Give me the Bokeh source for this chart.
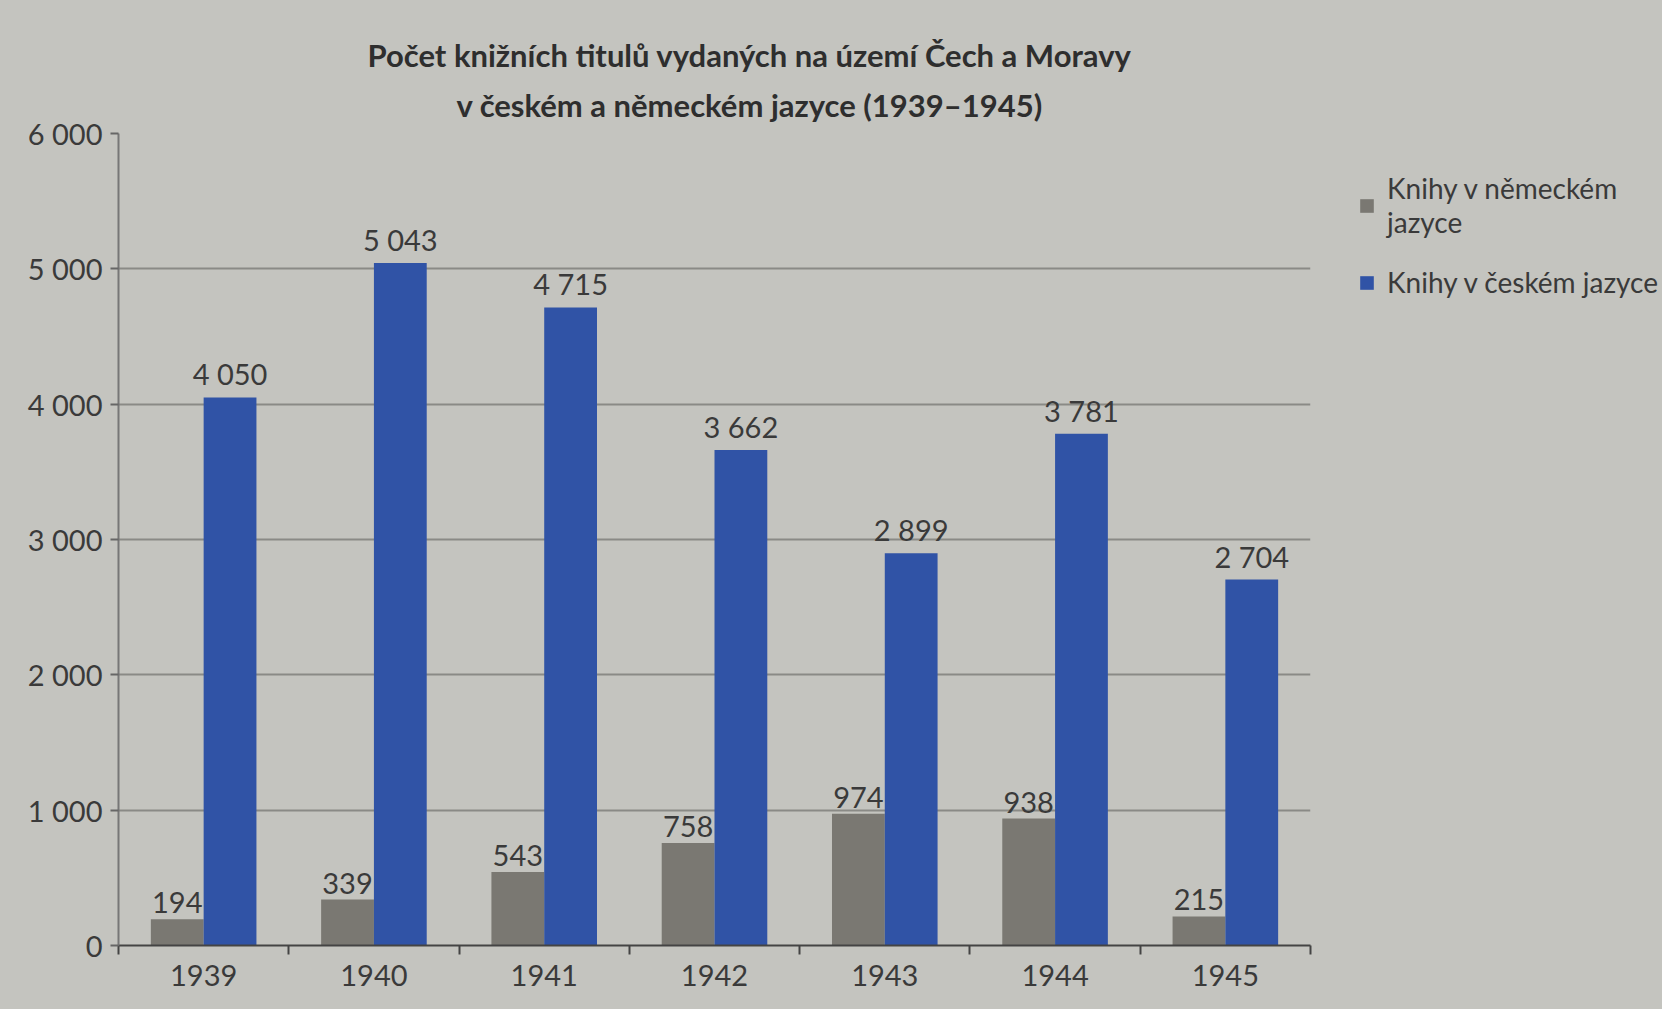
from bokeh.plotting import figure
from bokeh.layouts import row
from bokeh.models import Range1d, FixedTicker, Legend, LegendItem, ColumnDataSource, Title
from bokeh.core.properties import value
from bokeh.embed import file_html
from bokeh.resources import INLINE

# ---- data ----
years = ["1939", "1940", "1941", "1942", "1943", "1944", "1945"]
german = [194, 339, 543, 758, 974, 938, 215]
czech = [4050, 5043, 4715, 3662, 2899, 3781, 2704]
y_ticks = [0, 1000, 2000, 3000, 4000, 5000, 6000]
title_lines = ["Počet knižních titulů vydaných na území Čech a Moravy",
               "v českém a německém jazyce (1939–1945)"]
legend_labels = ["Knihy v německém\njazyce", "Knihy v českém jazyce"]


def fmt(v):
    return f"{v:,}".replace(",", " ")


BG = "#c4c4bf"
TXT = "#3a3a3a"
FONT = value("Lato")
BLUE = "#3053a6"
GREY = "#7a7872"

idx = list(range(len(years)))
src = ColumnDataSource(dict(
    x_de=[i - 0.155 for i in idx],
    x_cz=[i + 0.155 for i in idx],
    de=german, cz=czech,
    de_lbl=[fmt(v) for v in german],
    cz_lbl=[fmt(v) for v in czech],
))

p = figure(width=1320, height=1009,
           x_range=Range1d(-0.5, len(years) - 0.5),
           y_range=Range1d(0, 6000),
           output_backend="svg", toolbar_location=None,
           min_border_left=118, min_border_right=10,
           min_border_top=133, min_border_bottom=64,
           background_fill_alpha=0, border_fill_color=BG,
           outline_line_color=None)

# two title lines (second line closest to the plot is added first)
p.add_layout(Title(text=title_lines[1], align="left", offset=338,
                   text_font="Lato", text_font_size="31px", text_font_style="bold",
                   text_color="#2e2e2e", standoff=20, text_line_height=1.0), "above")
p.add_layout(Title(text=title_lines[0], align="left", offset=249,
                   text_font="Lato", text_font_size="31px", text_font_style="bold",
                   text_color="#2e2e2e", standoff=0, text_line_height=1.0), "above")

r_de = p.vbar(x="x_de", top="de", width=0.31, source=src,
              fill_color=GREY, line_color=None)
r_cz = p.vbar(x="x_cz", top="cz", width=0.31, source=src,
              fill_color=BLUE, line_color=None)

for col_x, col_y, col_l in [("x_de", "de", "de_lbl"), ("x_cz", "cz", "cz_lbl")]:
    p.text(x=col_x, y=col_y, text=col_l, source=src, text_align="center",
           text_baseline="bottom", y_offset=-6, text_font=FONT,
           text_font_size="29px", text_color=TXT)

# grid
p.xgrid.grid_line_color = None
p.ygrid.grid_line_color = "#8a8a86"
p.ygrid.grid_line_width = 2
p.ygrid.ticker = FixedTicker(ticks=y_ticks)

# x axis
p.xaxis.ticker = FixedTicker(ticks=idx, minor_ticks=[i - 0.5 for i in range(len(years) + 1)])
p.xaxis.major_label_overrides = {i: y for i, y in enumerate(years)}
p.xaxis.major_tick_line_color = None
p.xaxis.major_tick_out = 0
p.xaxis.major_tick_in = 0
p.xaxis.minor_tick_line_color = "#444444"
p.xaxis.minor_tick_line_width = 2
p.xaxis.minor_tick_out = 9
p.xaxis.minor_tick_in = 0
p.xaxis.axis_line_color = "#444444"
p.xaxis.axis_line_width = 2
p.xaxis.major_label_standoff = 10

# y axis
p.yaxis.ticker = FixedTicker(ticks=y_ticks)
p.yaxis.major_label_overrides = {t: fmt(t) for t in y_ticks}
p.yaxis.minor_tick_line_color = None
p.yaxis.major_tick_line_color = "#666666"
p.yaxis.major_tick_line_width = 2
p.yaxis.major_tick_out = 8
p.yaxis.major_tick_in = 0
p.yaxis.axis_line_color = "#777777"
p.yaxis.axis_line_width = 2
p.yaxis.major_label_standoff = 8

for ax in (p.xaxis[0], p.yaxis[0]):
    ax.major_label_text_font = "Lato"
    ax.major_label_text_font_size = "29px"
    ax.major_label_text_color = TXT

# ---- legend panel to the right of the chart ----
pl = figure(width=342, height=1009, x_range=Range1d(0, 1), y_range=Range1d(0, 1),
            output_backend="svg", toolbar_location=None,
            x_axis_location=None, y_axis_location=None,
            min_border_left=0, min_border_right=0,
            min_border_top=133, min_border_bottom=0,
            background_fill_alpha=0, border_fill_color=BG,
            outline_line_color=None)
pl.xgrid.visible = False
pl.ygrid.visible = False
# hidden copies of the series: they only supply the legend swatches
lg_de = pl.vbar(x="x_de", top="de", width=0.31, source=src,
                fill_color=GREY, line_color=None, visible=False)
lg_cz = pl.vbar(x="x_cz", top="cz", width=0.31, source=src,
                fill_color=BLUE, line_color=None, visible=False)

legend = Legend(items=[LegendItem(label=legend_labels[0], renderers=[lg_de]),
                       LegendItem(label=legend_labels[1], renderers=[lg_cz])],
                location="top_left", margin=38, padding=14, spacing=26,
                glyph_width=17, glyph_height=17, label_standoff=12,
                label_text_font="Lato", label_text_font_size="28px",
                label_text_color=TXT, background_fill_alpha=0,
                border_line_color=None, inactive_fill_alpha=0)
pl.add_layout(legend)

layout = row(p, pl, spacing=0, styles={"background-color": BG})

open("out.html", "w").write(file_html(layout, INLINE))
